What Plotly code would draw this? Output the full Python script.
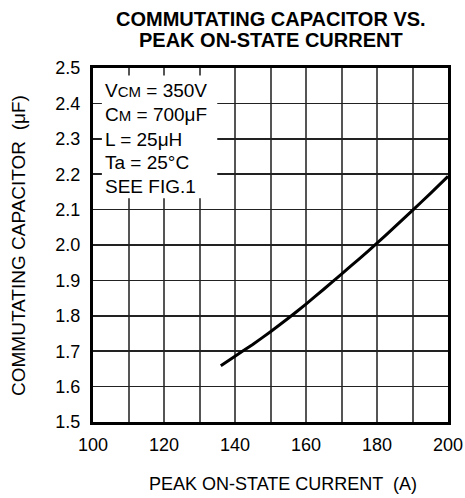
import plotly.graph_objects as go

# Data
current_a = [136, 140, 145, 150, 155, 160, 165, 170, 175, 180, 185, 190, 195, 200]
cap_uf = [1.659, 1.686, 1.719, 1.755, 1.793, 1.833, 1.875, 1.918, 1.961, 2.005, 2.051, 2.098, 2.145, 2.194]

x_ticks = [100, 120, 140, 160, 180, 200]
x_minor = [110, 130, 150, 170, 190]
y_ticks = [1.5, 1.6, 1.7, 1.8, 1.9, 2.0, 2.1, 2.2, 2.3, 2.4, 2.5]

cond_lines = [
    "V<span style='font-size:15px'>CM</span> = 350V",
    "C<span style='font-size:15px'>M</span> = 700μF",
    "L = 25μH",
    "Ta = 25°C",
    "SEE FIG.1",
]
title_lines = ["COMMUTATING CAPACITOR VS.", "PEAK ON-STATE CURRENT"]
x_title = "PEAK ON-STATE CURRENT  (A)"
y_title = "COMMUTATING CAPACITOR  (μF)"

FONT = "Liberation Sans, Arial, sans-serif"
W, H = 465, 498
# plot area in window pixels: x 93..448, y 68..422
L, T = 93, 68
R = W - 448
B = H - 422
PW, PH = W - L - R, H - T - B


def px2paper(px):
    return (px - L) / PW


def py2paper(py):
    return (H - B - py) / PH


fig = go.Figure()
fig.add_trace(go.Scatter(
    x=current_a, y=cap_uf, mode="lines",
    line=dict(color="black", width=3, shape="spline", smoothing=0.3),
    showlegend=False, hoverinfo="skip",
))

fig.update_layout(
    width=W, height=H,
    margin=dict(l=L, r=R, t=T, b=B, autoexpand=False),
    paper_bgcolor="white", plot_bgcolor="white",
    font=dict(family=FONT, size=18, color="black"),
    xaxis=dict(
        range=[100, 200], tickmode="array", tickvals=x_ticks,
        showgrid=True, gridcolor="#555", gridwidth=2,
        minor=dict(tickvals=x_minor, showgrid=True, gridcolor="#555", gridwidth=2, ticks=""),
        showline=True, linecolor="black", linewidth=3, mirror=True,
        ticks="", ticklabelstandoff=4, zeroline=False, automargin=False,
        tickfont=dict(size=18),
    ),
    yaxis=dict(
        range=[1.5, 2.5], tickmode="array", tickvals=y_ticks, tickformat=".1f",
        showgrid=True, gridcolor="#222", gridwidth=1.5,
        showline=True, linecolor="black", linewidth=3, mirror=True,
        ticks="", ticklabelstandoff=6, zeroline=False, automargin=False,
        tickfont=dict(size=18),
    ),
)

# white condition box
fig.add_shape(type="rect", xref="x", yref="y", x0=102.5, x1=135, y0=2.132, y1=2.479,
              fillcolor="white", line=dict(width=0), layer="above")

line_y = [90, 114.5, 139, 162.5, 186]
for txt, py in zip(cond_lines, line_y):
    fig.add_annotation(
        xref="paper", yref="paper", x=px2paper(103), y=py2paper(py), text=txt,
        xanchor="left", yanchor="middle", showarrow=False,
        font=dict(size=19, family=FONT),
    )

# title, two tightly spaced lines
for txt, py in zip(title_lines, [19, 40]):
    fig.add_annotation(
        xref="paper", yref="paper", x=px2paper(271), y=py2paper(py),
        text=f"<b>{txt}</b>",
        xanchor="center", yanchor="middle", showarrow=False,
        font=dict(size=20, family=FONT),
    )

# axis titles
fig.add_annotation(
    xref="paper", yref="paper", x=px2paper(283), y=py2paper(484),
    text=x_title, xanchor="center", yanchor="middle", showarrow=False,
    font=dict(size=18, family=FONT),
)
fig.add_annotation(
    xref="paper", yref="paper", x=px2paper(19), y=py2paper(246),
    text=y_title, textangle=-90, xanchor="center", yanchor="middle", showarrow=False,
    font=dict(size=19, family=FONT),
)

fig.write_html(
    "out.html",
    config={"displayModeBar": False, "staticPlot": True},
    post_script="document.body.style.margin='0';document.body.style.overflow='hidden';",
)
